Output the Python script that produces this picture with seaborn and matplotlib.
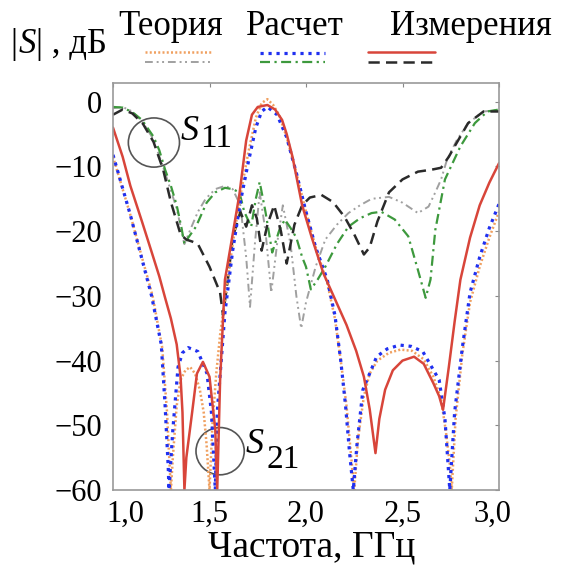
import matplotlib
matplotlib.use("Agg")
import matplotlib.pyplot as plt
import matplotlib.transforms as mtransforms
import seaborn as sns
from matplotlib.lines import Line2D
from matplotlib.patches import Ellipse

# ---------------- data ----------------
meas_s21_x = [1.00, 1.05, 1.09, 1.15, 1.20, 1.24, 1.27, 1.30, 1.33, 1.35, 1.36, 1.37,
              1.38, 1.41, 1.435, 1.466, 1.50, 1.53, 1.54,
              1.555, 1.58, 1.62, 1.655, 1.69, 1.72, 1.75, 1.80, 1.84, 1.876, 1.90,
              1.93, 1.98, 2.03, 2.09, 2.15, 2.21, 2.26, 2.30, 2.33, 2.36,
              2.38, 2.41, 2.45, 2.50, 2.56, 2.61, 2.66, 2.69, 2.71,
              2.74, 2.77, 2.80, 2.85, 2.90, 2.95, 3.00]
meas_s21_y = [-4, -8.5, -13, -18.5, -23.2, -27, -30.3, -33.5, -37.5, -42.5, -48, -60,
              -55, -48, -42, -40.2, -42.5, -50.7, -60,
              -43, -27.5, -20.5, -14.3, -6, -2, -0.8, -0.5, -1.2, -2.8, -5,
              -8.5, -16, -21, -26.5, -30.5, -34.5, -38.5, -42.5, -47.5, -54.3,
              -49, -44.5, -41.5, -40, -39.4, -40.5, -43.5, -45.5, -47.6,
              -41, -34, -27.5, -21, -16, -12.5, -9.5]

calc_s21_x = [1.00, 1.09, 1.14, 1.20, 1.25, 1.27, 1.286, 1.29,
              1.31, 1.337, 1.36, 1.39, 1.44, 1.487, 1.51, 1.53,
              1.54, 1.56, 1.58, 1.62, 1.66, 1.70, 1.74, 1.77, 1.80, 1.85, 1.90,
              1.95, 2.00, 2.05, 2.11, 2.15, 2.18, 2.205, 2.225, 2.245,
              2.264, 2.295, 2.366, 2.42, 2.485, 2.545, 2.605, 2.69, 2.72, 2.745,
              2.77, 2.81, 2.85, 2.90, 2.95, 3.00]
calc_s21_y = [-8.2, -17.5, -23.2, -30, -37.5, -47, -56.4, -60,
              -50.7, -41, -38.8, -38, -38.6, -42, -48, -60,
              -48, -40.3, -32.6, -23, -15.5, -9.5, -4, -1.5, -0.8, -2, -5.5,
              -11, -17, -22.5, -27.5, -33, -40, -47, -54, -60,
              -53, -44.5, -39.4, -38.2, -37.6, -37.8, -38.6, -43, -49, -60,
              -48, -38, -29.5, -24, -19.5, -15.8]

theo_s21_x = [1.00, 1.09, 1.145, 1.205, 1.255, 1.28, 1.293, 1.30,
              1.31, 1.33, 1.35, 1.375, 1.40, 1.425, 1.45, 1.47, 1.485, 1.50,
              1.515, 1.535, 1.555, 1.58, 1.62, 1.66, 1.70, 1.74, 1.77, 1.80,
              1.83, 1.86, 1.90, 1.95, 2.00, 2.05, 2.11, 2.15, 2.18, 2.21, 2.23, 2.25,
              2.27, 2.30, 2.33, 2.37, 2.43, 2.49, 2.55, 2.61, 2.66, 2.70, 2.725,
              2.745, 2.755, 2.775, 2.81, 2.85, 2.90, 2.95, 3.00]
theo_s21_y = [-8.5, -17.5, -23.5, -30, -38, -48, -56, -60,
              -55, -47, -43, -41.5, -41, -42, -44.5, -48, -53, -60,
              -50, -42, -36, -30.5, -22, -14.5, -8, -2.5, -0.2, 0.4,
              -0.5, -2, -5.5, -11, -17, -22.5, -28, -33.5, -40, -47, -53.5, -60,
              -52, -45.5, -42, -40, -38.8, -38.3, -38.5, -39.8, -42.5, -46, -51,
              -56, -60, -49, -39, -31, -25.5, -21, -17]

meas_s11_x = [1.00, 1.05, 1.10, 1.155, 1.21, 1.26, 1.30, 1.35, 1.38, 1.41, 1.44,
              1.50, 1.555, 1.57, 1.595, 1.62, 1.66, 1.69, 1.72, 1.745, 1.77,
              1.80, 1.835, 1.87, 1.90, 1.94, 1.98, 2.02, 2.08, 2.14, 2.20, 2.25,
              2.30, 2.33, 2.37, 2.43, 2.50, 2.58, 2.65, 2.70, 2.74, 2.77, 2.84,
              2.92, 3.00]
meas_s11_y = [-2.0, -1.2, -1.8, -3.4, -6.2, -10.5, -15.5, -20.5, -21.3, -21.6, -22,
              -25.5, -29.5, -33, -27.5, -21, -17, -19.3, -16, -18, -23,
              -19, -16, -20, -25, -19, -16, -14.8, -14.4, -15.5, -17.8, -20.5,
              -23.6, -22.5, -18.5, -14, -12, -10.8, -10.5, -10.2, -8.5, -6.9, -3.3,
              -1.5, -1.5]

calc_s11_x = [1.00, 1.05, 1.10, 1.15, 1.21, 1.24, 1.27, 1.30, 1.33, 1.355, 1.37,
              1.39, 1.43, 1.485, 1.53, 1.58, 1.62, 1.655, 1.68, 1.716, 1.74, 1.76,
              1.79, 1.825, 1.86, 1.89, 1.92, 1.95, 1.98, 2.00, 2.025, 2.06, 2.10,
              2.16, 2.22, 2.28, 2.34, 2.39, 2.46, 2.53, 2.58, 2.62, 2.645, 2.67,
              2.72, 2.80, 2.875, 2.94, 3.00]
calc_s11_y = [-0.8, -0.9, -1.6, -2.8, -5.4, -7.5, -10.5, -13, -16, -19.5, -22,
              -21, -19.3, -15.6, -14, -13.3, -13.5, -14, -17, -19.3, -15, -12.4,
              -17, -23.3, -20, -18.2, -19.5, -21, -24, -25.5, -29, -27.5, -25.5,
              -22, -19.3, -18, -17.2, -17, -18.2, -20.8, -26, -30.3, -27.5, -19.8,
              -12, -6.9, -3.3, -1.5, -1.2]

theo_s11_x = [1.00, 1.05, 1.10, 1.15, 1.21, 1.27, 1.33, 1.37, 1.40, 1.44, 1.48,
              1.53, 1.58, 1.62, 1.66, 1.69, 1.71, 1.735, 1.76, 1.79, 1.82, 1.85,
              1.88, 1.92, 1.95, 1.975, 2.00, 2.05, 2.10, 2.16, 2.22, 2.28, 2.34,
              2.43, 2.50, 2.58, 2.635, 2.67, 2.70, 2.73, 2.78, 2.84, 2.92, 3.00]
theo_s11_y = [-1.0, -0.8, -1.5, -3, -5.8, -11, -16.5, -22, -19.8, -17, -15,
              -13.5, -13, -13.5, -16, -24, -31.7, -22, -14, -20, -29.5, -22,
              -16, -22, -30, -35, -31, -25.5, -21.3, -19, -17.2, -16, -15,
              -14.7, -15.6, -17.2, -16.2, -14, -12, -9, -6, -3.3, -1.5, -1.3]

x_ticks = [1.0, 1.5, 2.0, 2.5, 3.0]
x_tick_labels = ["1,0", "1,5", "2,0", "2,5", "3,0"]
y_ticks = [0, -10, -20, -30, -40, -50, -60]
y_tick_labels = ["0", "\u221210", "\u221220", "\u221230", "\u221240", "\u221250", "\u221260"]

group_labels = ["Теория", "Расчет", "Измерения"]
x_label = "Частота, ГГц"

# ---------------- styles ----------------
C_ORANGE = "#f0a060"
C_BLUE = "#2030f0"
C_RED = "#d8453a"
C_BLACK = "#2a2a2a"
C_GREEN = "#3d993d"
C_GREY = "#a0a0a0"

ST_ORANGE = dict(color=C_ORANGE, lw=1.8, dashes=(0.8, 0.9))
ST_BLUE = dict(color=C_BLUE, lw=2.3, dashes=(1.0, 1.5))
ST_RED = dict(color=C_RED, lw=1.8)
ST_BLACK = dict(color=C_BLACK, lw=1.8, dashes=(4.5, 2.5))
ST_GREEN = dict(color=C_GREEN, lw=1.6, dashes=(4.5, 2.0, 1.0, 2.0))
ST_GREY = dict(color=C_GREY, lw=1.4, dashes=(4.0, 2.0, 1.0, 1.8, 1.0, 2.0))

sns.set_theme(style="white")
plt.rcParams["font.family"] = ["Liberation Serif", "DejaVu Serif"]
plt.rcParams["text.color"] = "black"
plt.rcParams["xtick.color"] = "black"
plt.rcParams["ytick.color"] = "black"

fig = plt.figure(figsize=(5.63, 5.69), dpi=100)
ax = fig.add_axes([113 / 563, 1 - 490 / 569, (499 - 113) / 563, (490 - 83) / 569])


def draw(x, y, st):
    kw = dict(st)
    dashes = kw.pop("dashes", None)
    sns.lineplot(x=x, y=y, ax=ax, sort=False, estimator=None, legend=False, **kw)
    line = ax.lines[-1]
    if dashes is not None:
        line.set_dashes(dashes)
    line.set_solid_joinstyle("round")
    line.set_dash_joinstyle("round")


draw(theo_s11_x, theo_s11_y, ST_GREY)
draw(calc_s11_x, calc_s11_y, ST_GREEN)
draw(meas_s11_x, meas_s11_y, ST_BLACK)
draw(theo_s21_x, theo_s21_y, ST_ORANGE)
draw(calc_s21_x, calc_s21_y, ST_BLUE)
draw(meas_s21_x, meas_s21_y, ST_RED)

ax.set_xlim(1.0, 3.0)
ax.set_ylim(-60, 2.9)
ax.set_xticks(x_ticks)
ax.set_xticklabels(x_tick_labels)
ax.set_yticks(y_ticks)
ax.set_yticklabels(y_tick_labels)
ax.tick_params(axis="both", which="both", direction="in", length=3, width=0.8,
               color="#888888", labelsize=22, labelcolor="black",
               top=True, right=True)
ax.tick_params(axis="x", pad=7)
ax.tick_params(axis="y", pad=8)
ax.set_xlabel("")
ax.set_ylabel("")
for sp in ax.spines.values():
    sp.set_color("#999999")
    sp.set_linewidth(1.2)

# nudge the end x tick labels inward as in the reference
xl = ax.get_xticklabels()
xl[0].set_transform(xl[0].get_transform() +
                    mtransforms.ScaledTranslation(12 / 100, 0, fig.dpi_scale_trans))
xl[-1].set_transform(xl[-1].get_transform() +
                     mtransforms.ScaledTranslation(-7 / 100, 0, fig.dpi_scale_trans))

# circles with labels
ax.add_patch(Ellipse((1.212, -6.3), 0.265, 7.6, fill=False, ec="#555555", lw=1.2))
ax.add_patch(Ellipse((1.555, -54.0), 0.25, 7.3, fill=False, ec="#555555", lw=1.2))


def px(xp, yp):
    return xp / 563, 1 - yp / 569


fig.text(*px(181, 140), "S", style="italic", fontsize=26, ha="left", va="baseline", color="black")
fig.text(*px(200, 147), "11", fontsize=24, ha="left", va="baseline", color="black")
fig.text(*px(246, 453), "S", style="italic", fontsize=26, ha="left", va="baseline", color="black")
fig.text(*px(266, 468), "21", fontsize=24, ha="left", va="baseline", color="black")

# x label
fig.text(*px(312, 557), x_label, fontsize=27, ha="center", va="baseline", color="black")

# header / legend
fig.text(*px(10, 53), "|", fontsize=25, ha="left", va="baseline", color="black")
fig.text(*px(19, 53), "S", style="italic", fontsize=25, ha="left", va="baseline", color="black")
fig.text(*px(36, 53), "| , дБ", fontsize=25, ha="left", va="baseline", color="black")

centers = [171, 295, 471]
for lab, cx in zip(group_labels, centers):
    fig.text(*px(cx, 35), lab, fontsize=25, ha="center", va="baseline", color="black")

legend_rows = [
    ((145, 212), 52, ST_ORANGE), ((145, 212), 62, ST_GREY),
    ((260, 325), 53, ST_BLUE), ((260, 325), 62, ST_GREEN),
    ((368, 435), 52, ST_RED), ((368, 432), 62, ST_BLACK),
]
for (x0, x1), yy, st in legend_rows:
    kw = dict(st)
    dashes = kw.pop("dashes", None)
    ln = Line2D([x0 / 563, x1 / 563], [1 - yy / 569, 1 - yy / 569],
                transform=fig.transFigure, **kw)
    if dashes is not None:
        ln.set_dashes(dashes)
    fig.add_artist(ln)

fig.savefig("out.png", dpi=100)
